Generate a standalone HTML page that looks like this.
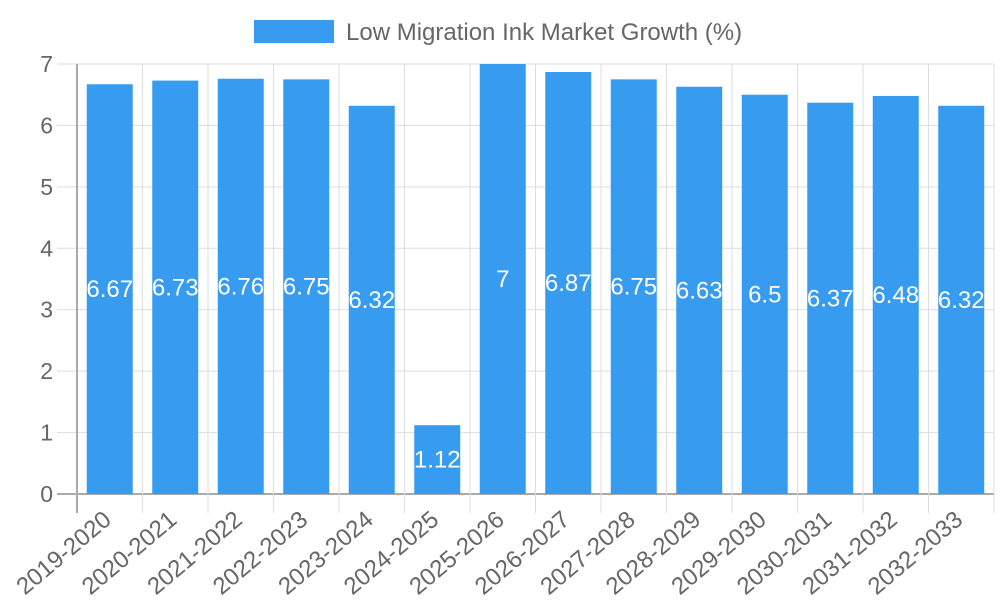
<!DOCTYPE html>
<html><head><meta charset="utf-8"><style>body{margin:0;background:#fff}svg{display:block;font-family:"Liberation Sans",sans-serif}</style></head>
<body>
<svg id="c" width="1000" height="600"></svg>
<script>
const categories=["2019-2020","2020-2021","2021-2022","2022-2023","2023-2024","2024-2025","2025-2026","2026-2027","2027-2028","2028-2029","2029-2030","2030-2031","2031-2032","2032-2033"];
const values=[6.67,6.73,6.76,6.75,6.32,1.12,7,6.87,6.75,6.63,6.5,6.37,6.48,6.32];
const yTicks=[0,1,2,3,4,5,6,7];
const seriesName="Low Migration Ink Market Growth (%)";
const NS="http://www.w3.org/2000/svg";
const svg=document.getElementById('c');
const L=77,R=994,T=64,B=494,yMax=7;
const bw=(R-L)/categories.length;
const y=v=>B-(v/yMax)*(B-T);
const x=i=>L+i*bw;
function mk(t,a,p){const e=document.createElementNS(NS,t);for(const k in a)e.setAttribute(k,a[k]);(p||svg).appendChild(e);return e;}
const grid=mk('g',{});


yTicks.forEach(v=>{mk('line',{x1:57,x2:R,y1:y(v),y2:y(v),stroke:v===0?'#aaa':'#ddd','stroke-width':v===0?2:1},grid);
const t=mk('text',{x:53,y:y(v)+8,'text-anchor':'end','font-size':23,fill:'#666'});t.textContent=v;

});
for(let i=0;i<=categories.length;i++){mk('line',{x1:x(i),x2:x(i),y1:T,y2:513,stroke:i===0?'#aaa':'#ddd','stroke-width':i===0?2:1},grid);}
categories.forEach((c,i)=>{
const cx=x(i)+bw/2;
const r=mk('rect',{x:cx-23,y:y(values[i]),width:46,height:B-y(values[i]),fill:'#379cf0'});


const vl=mk('text',{x:cx,y:(y(values[i])+B)/2+8,'text-anchor':'middle','font-size':24,fill:'#fff'});vl.textContent=values[i];


const tl=mk('text',{x:cx+3,y:522,'text-anchor':'end','font-size':24,fill:'#666',transform:`rotate(-40 ${cx+3} 522)`});tl.textContent=c;


});
const lr=mk('rect',{x:254,y:20,width:80,height:23,fill:'#379cf0'});


const lt=mk('text',{x:346,y:40,'font-size':24,fill:'#666'});lt.textContent=seriesName;


</script>
</body></html>
